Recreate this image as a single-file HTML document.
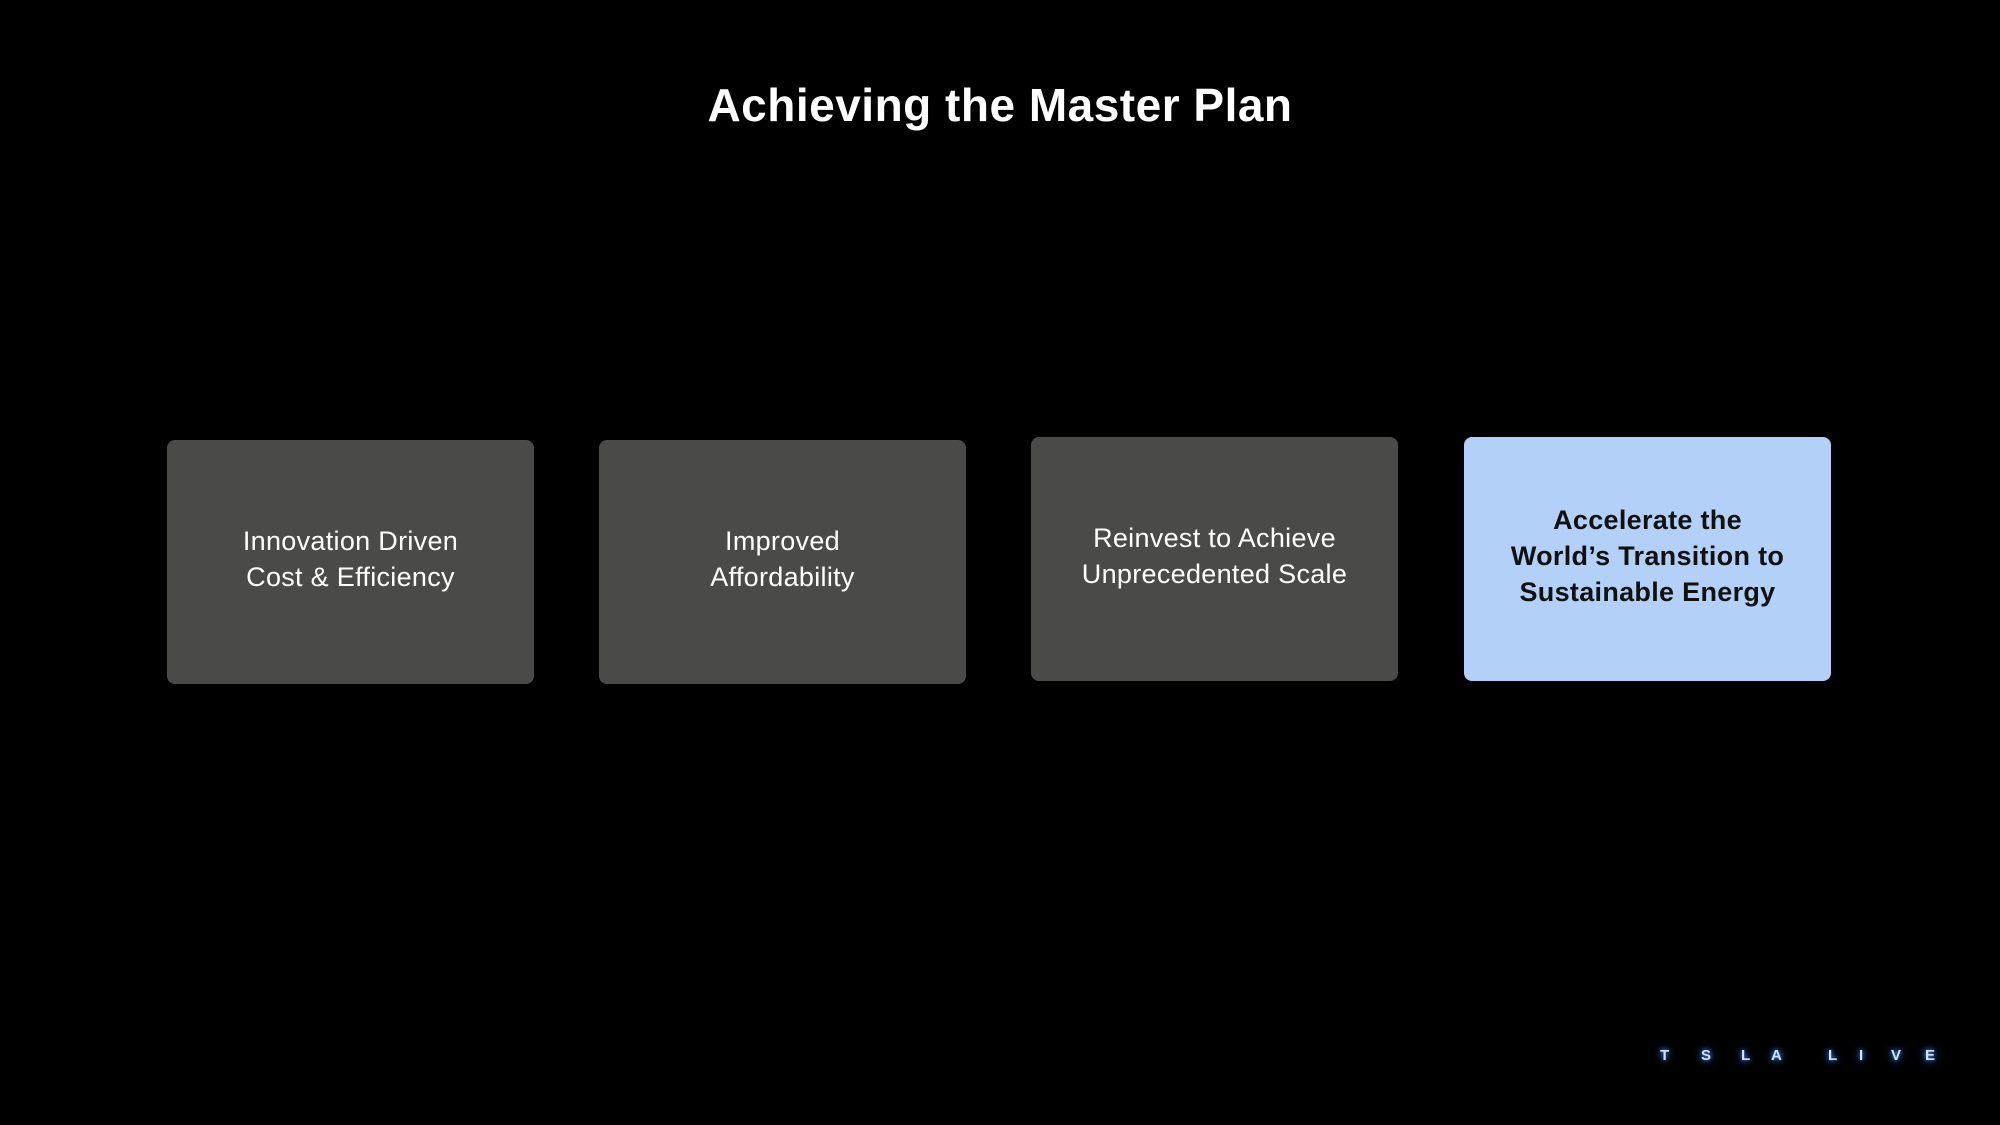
<!DOCTYPE html>
<html><head><meta charset="utf-8"><style>
html,body{margin:0;padding:0;background:#000;}
body{width:2000px;height:1125px;position:relative;overflow:hidden;font-family:"Liberation Sans",sans-serif;}
.title{position:absolute;left:0;width:2000px;top:78px;text-align:center;color:#fff;font-size:46px;font-weight:bold;letter-spacing:0.5px;}
.box{position:absolute;width:367px;height:244px;border-radius:8px;background:#4a4b49;color:#fff;display:flex;align-items:center;justify-content:center;text-align:center;font-size:27px;line-height:36px;letter-spacing:0.3px;box-sizing:border-box;padding-bottom:6px;}
.blue{background:#b2d0f8;color:#111;font-weight:bold;}
.logo span{position:absolute;top:1047px;color:#cfe3ff;font-size:15px;font-weight:bold;text-shadow:0 0 5px #4a8cff,0 0 9px #2f6fd8;}
</style></head><body>
<div class="title">Achieving the Master Plan</div>
<div class="box" style="left:167px;top:440px;">Innovation Driven<br>Cost &amp; Efficiency</div>
<div class="box" style="left:599px;top:440px;">Improved<br>Affordability</div>
<div class="box" style="left:1031px;top:437px;">Reinvest to Achieve<br>Unprecedented Scale</div>
<div class="box blue" style="left:1464px;top:437px;">Accelerate the<br>World’s Transition to<br>Sustainable Energy</div>
<div class="logo">
<span style="left:1660px">T</span><span style="left:1701px">S</span><span style="left:1741px">L</span><span style="left:1771px">A</span>
<span style="left:1828px">L</span><span style="left:1859px">I</span><span style="left:1891px">V</span><span style="left:1925px">E</span>
</div>
</body></html>
